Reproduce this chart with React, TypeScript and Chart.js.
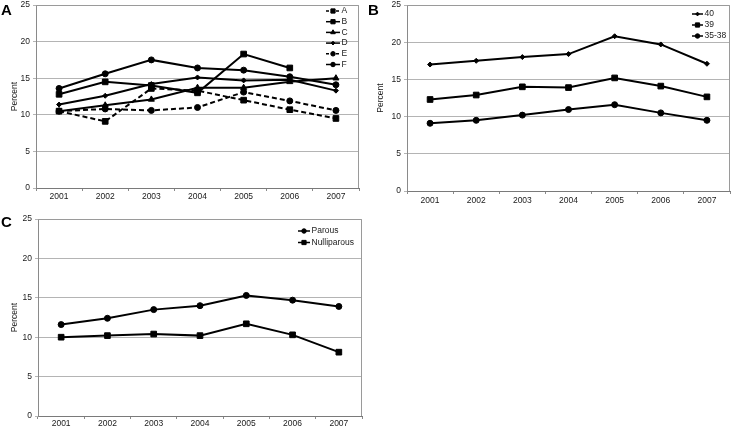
import React, { useEffect, useRef } from 'react';
import { Chart, registerables } from 'chart.js';

Chart.register(...registerables);

// ---------- data ----------
const years = ['2001', '2002', '2003', '2004', '2005', '2006', '2007'];
const yTicks = [0, 5, 10, 15, 20, 25];

// Panel A
const seriesA = [10.5, 9.1, 13.6, 13.3, 12.0, 10.7, 9.5];
const seriesB = [12.8, 14.5, 14.0, 13.0, 18.3, 16.4, null];
const seriesC = [10.5, 11.3, 12.1, 13.7, 13.7, 14.5, 15.0];
const seriesD = [11.4, 12.6, 14.2, 15.1, 14.7, 14.8, 13.3];
const seriesE = [10.5, 10.8, 10.6, 11.0, 13.1, 11.9, 10.6];
const seriesF = [13.6, 15.6, 17.5, 16.4, 16.1, 15.2, 14.1];

// Panel B
const age40 = [17.0, 17.5, 18.0, 18.4, 20.8, 19.7, 17.1];
const age39 = [12.3, 12.9, 14.0, 13.9, 15.2, 14.1, 12.65];
const age3538 = [9.1, 9.5, 10.2, 10.95, 11.6, 10.5, 9.5];

// Panel C
const parous = [11.6, 12.4, 13.5, 14.0, 15.3, 14.7, 13.9];
const nulliparous = [10.0, 10.2, 10.4, 10.2, 11.7, 10.3, 8.1];

const FONT = '"Liberation Sans", Arial, sans-serif';
const TEXT = '#1a1a1a';

function ds(label: string, data: (number | null)[], pointStyle: string, radius: number, dashed: boolean) {
  return {
    label,
    data,
    borderColor: '#000',
    backgroundColor: '#000',
    borderWidth: 2,
    borderDash: dashed ? [5, 3] : [],
    pointStyle,
    pointRadius: radius,
    pointBackgroundColor: '#000',
    pointBorderColor: '#000',
    pointBorderWidth: 1,
    tension: 0,
    spanGaps: false,
  };
}

function drawMarker(ctx: CanvasRenderingContext2D, style: string, x: number, y: number, r: number) {
  ctx.save();
  ctx.fillStyle = '#000';
  ctx.strokeStyle = '#000';
  ctx.lineWidth = 1;
  ctx.beginPath();
  if (style === 'rect') {
    const s = r * Math.SQRT1_2;
    ctx.rect(x - s, y - s, 2 * s, 2 * s);
  } else if (style === 'triangle') {
    ctx.moveTo(x, y - r);
    ctx.lineTo(x + r * 0.87, y + r * 0.5);
    ctx.lineTo(x - r * 0.87, y + r * 0.5);
    ctx.closePath();
  } else if (style === 'rectRot') {
    ctx.moveTo(x, y - r);
    ctx.lineTo(x + r, y);
    ctx.lineTo(x, y + r);
    ctx.lineTo(x - r, y);
    ctx.closePath();
  } else {
    ctx.arc(x, y, r, 0, Math.PI * 2);
  }
  ctx.fill();
  ctx.stroke();
  ctx.restore();
}

const panelPlugin = {
  id: 'panelDeco',
  beforeDatasetsDraw(chart: any) {
    const { ctx, chartArea } = chart;
    ctx.save();
    ctx.strokeStyle = '#9a9a9a';
    ctx.lineWidth = 1;
    ctx.beginPath();
    ctx.moveTo(chartArea.left, chartArea.top + 0.5);
    ctx.lineTo(chartArea.right - 0.5, chartArea.top + 0.5);
    ctx.lineTo(chartArea.right - 0.5, chartArea.bottom);
    ctx.stroke();
    ctx.restore();
  },
  afterDraw(chart: any, _args: any, opts: any) {
    const ctx: CanvasRenderingContext2D = chart.ctx;
    const { x, y, rowH, lineLen } = opts;
    chart.data.datasets.forEach((d: any, i: number) => {
      const yy = y + i * rowH;
      ctx.save();
      ctx.strokeStyle = '#000';
      ctx.lineWidth = 1.5;
      ctx.setLineDash(d.borderDash && d.borderDash.length ? [3, 2] : []);
      ctx.beginPath();
      ctx.moveTo(x, yy);
      ctx.lineTo(x + lineLen, yy);
      ctx.stroke();
      ctx.setLineDash([]);
      drawMarker(ctx, d.pointStyle, x + lineLen / 2, yy, d.pointRadius * 0.75);
      ctx.fillStyle = TEXT;
      ctx.font = `8.5px ${FONT}`;
      ctx.textBaseline = 'middle';
      ctx.textAlign = 'left';
      ctx.fillText(d.label, x + lineLen + 1.5, yy);
      ctx.restore();
    });
    ctx.save();
    ctx.fillStyle = '#000';
    ctx.font = `bold 15px ${FONT}`;
    ctx.textBaseline = 'alphabetic';
    ctx.textAlign = 'left';
    ctx.fillText(opts.letter, opts.letterX, opts.letterY);
    ctx.restore();
  },
};

type PanelProps = {
  left: number;
  top: number;
  width: number;
  height: number;
  datasets: any[];
  yAxisWidth: number;
  xAxisHeight: number;
  padTop: number;
  padRight: number;
  titlePad: number;
  xLabelPad: number;
  legend: { x: number; y: number; rowH: number; lineLen: number };
  letter: string;
  letterX: number;
  letterY: number;
};

function Panel(p: PanelProps) {
  const ref = useRef<HTMLCanvasElement>(null);
  useEffect(() => {
    if (!ref.current) return;
    const chart = new Chart(ref.current, {
      type: 'line',
      data: { labels: years, datasets: p.datasets },
      plugins: [panelPlugin as any],
      options: {
        responsive: false,
        animation: false,
        layout: { padding: { top: p.padTop, right: p.padRight, left: 0, bottom: 0 } },
        plugins: {
          legend: { display: false },
          tooltip: { enabled: false },
          panelDeco: { ...p.legend, letter: p.letter, letterX: p.letterX, letterY: p.letterY },
        } as any,
        scales: {
          x: {
            type: 'category',
            offset: true,
            grid: {
              display: true,
              offset: true,
              drawOnChartArea: false,
              drawTicks: true,
              tickLength: 3,
              color: '#8a8a8a',
            },
            border: { display: true, color: '#7a7a7a', width: 1 },
            ticks: { color: TEXT, font: { family: FONT, size: 8.5 }, padding: p.xLabelPad, maxRotation: 0 },
            afterFit: (s: any) => {
              s.height = p.xAxisHeight;
              s.paddingLeft = 0;
              s.paddingRight = 0;
            },
          },
          y: {
            type: 'linear',
            min: 0,
            max: 25,
            afterBuildTicks: (s: any) => {
              s.ticks = yTicks.map((v) => ({ value: v }));
            },
            grid: { color: '#b4b4b4', lineWidth: 1, tickLength: 3, drawTicks: true },
            border: { display: true, color: '#8a8a8a', width: 1 },
            ticks: { color: TEXT, font: { family: FONT, size: 8.5 }, padding: 3 },
            title: {
              display: true,
              text: 'Percent',
              color: TEXT,
              font: { family: FONT, size: 8.5 },
              padding: { top: p.titlePad, bottom: 0 },
            },
            afterFit: (s: any) => {
              s.width = p.yAxisWidth;
              s.paddingTop = 0;
              s.paddingBottom = 0;
            },
          },
        },
      } as any,
    });
    return () => chart.destroy();
  }, []);
  return (
    <canvas
      ref={ref}
      width={p.width}
      height={p.height}
      style={{ position: 'absolute', left: p.left, top: p.top, width: p.width, height: p.height, display: 'block' }}
    />
  );
}

export default function App() {
  const dsA = [
    ds('A', seriesA, 'rect', 4, true),
    ds('B', seriesB, 'rect', 4, false),
    ds('C', seriesC, 'triangle', 3.5, false),
    ds('D', seriesD, 'rectRot', 2.5, false),
    ds('E', seriesE, 'circle', 3, true),
    ds('F', seriesF, 'circle', 3, false),
  ];
  const dsB = [
    ds('40', age40, 'rectRot', 2.5, false),
    ds('39', age39, 'rect', 4, false),
    ds('35-38', age3538, 'circle', 3, false),
  ];
  const dsC = [ds('Parous', parous, 'circle', 3, false), ds('Nulliparous', nulliparous, 'rect', 4, false)];
  return (
    <div style={{ position: 'absolute', left: 0, top: 0, width: 735, height: 429, background: '#fff' }}>
      <Panel
        left={0}
        top={0}
        width={367}
        height={210}
        datasets={dsA}
        yAxisWidth={36}
        xAxisHeight={22}
        padTop={4}
        padRight={8}
        titlePad={10}
        xLabelPad={1}
        legend={{ x: 326, y: 11, rowH: 10.7, lineLen: 14 }}
        letter="A"
        letterX={1}
        letterY={14.5}
      />
      <Panel
        left={367}
        top={0}
        width={368}
        height={210}
        datasets={dsB}
        yAxisWidth={40}
        xAxisHeight={19}
        padTop={4}
        padRight={2}
        titlePad={9}
        xLabelPad={2}
        legend={{ x: 325, y: 14, rowH: 11, lineLen: 11 }}
        letter="B"
        letterX={1}
        letterY={14.5}
      />
      <Panel
        left={0}
        top={210}
        width={367}
        height={219}
        datasets={dsC}
        yAxisWidth={38}
        xAxisHeight={13}
        padTop={9}
        padRight={4}
        titlePad={10}
        xLabelPad={0}
        legend={{ x: 298, y: 21, rowH: 11.5, lineLen: 12 }}
        letter="C"
        letterX={1}
        letterY={17}
      />
    </div>
  );
}
